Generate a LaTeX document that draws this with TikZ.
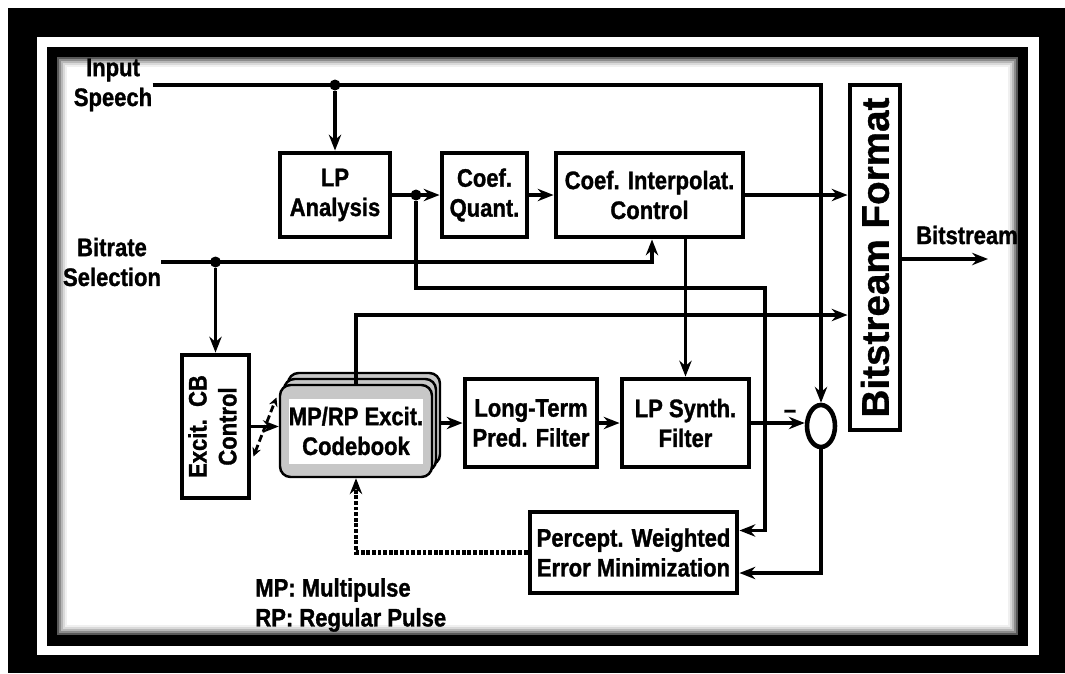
\documentclass[tikz,border=0pt]{standalone}
\usepackage{graphicx}
\usepackage{fontspec}
\setmainfont[FakeStretch=0.87, BoldFeatures={FakeBold=1.2}]{Liberation Sans}
\newfontfamily\widefont[BoldFeatures={FakeBold=0.8}]{Liberation Sans}
\usetikzlibrary{arrows.meta, calc, shapes.geometric}

\begin{document}
\begin{tikzpicture}[x=0.02cm, y=-0.02cm, font=\fontsize{14.4}{17}\selectfont\bfseries]
    \tikzset{
        block/.style={rectangle, draw, line width=2.8pt, align=center, inner sep=0pt},
        arrow/.style={line width=2.2pt, ->, >={Stealth[length=9pt,width=7pt]}},
        card/.style={rectangle, rounded corners=6pt, draw, line width=1.4pt, fill=black!22,
                     minimum width=3.04cm, minimum height=1.84cm},
        junction/.style={circle, fill, inner sep=0pt, minimum size=0.22cm},
        plain/.style={align=center, inner sep=0pt}
    }
    \useasboundingbox (0,0) rectangle (1065,673);
    % frame
    \fill[black] (8,8) rectangle (1065,673);
    \fill[white] (37,37) rectangle (1039,655);
    \fill[black] (47,47) rectangle (1028,646);
    \foreach \k/\c in {0/35,2/55,4/72,6/85,8/94,10/100}
        \fill[white!\c!black] ({57+\k},{57+\k}) rectangle ({1018-\k},{635-\k});

    % blocks
    \node[block, minimum width=2.2cm, minimum height=1.68cm] (lpa) at (335,195) {LP\\Analysis};
    \node[block, minimum width=1.7cm, minimum height=1.68cm] (quant) at (484.5,195) {Coef.\\Quant.};
    \node[block, minimum width=3.74cm, minimum height=1.68cm] (interp) at (649.5,195) {Coef. Interpolat.\\Control};
    \node[block, minimum width=1cm, minimum height=6.9cm] (bsf) at (875,257.5)
        {\rotatebox{90}{\widefont\fontsize{22}{24}\selectfont\bfseries Bitstream Format}};
    \node[block, minimum width=1.34cm, minimum height=2.86cm] (excit) at (215.5,426.5)
        {\rotatebox{90}{\begin{tabular}{@{}c@{}}Excit.\ \ CB\\Control\end{tabular}}};
    \node[card] (cb3) at (364,419) {};
    \node[card] (cb2) at (360,425) {};
    \node[card] (cb) at (356,431) {};
    \node[plain, fill=white, minimum width=2.64cm, minimum height=1.3cm] (cbtext) at (cb) {MP/RP Excit.\\Codebook};
    \node[block, minimum width=2.64cm, minimum height=1.76cm] (ltp) at (531,423) {Long-Term\\Pred. Filter};
    \node[block, minimum width=2.54cm, minimum height=1.76cm] (synth) at (685.5,423) {LP Synth.\\Filter};
    \node[ellipse, draw, line width=2.6pt, minimum width=0.56cm, minimum height=0.84cm, inner sep=0pt] (sum) at (821,426) {};
    \node[block, minimum width=4.14cm, minimum height=1.62cm] (percept) at (633.5,552.5) {Percept. Weighted\\Error Minimization};

    % labels
    \node[plain] (speech) at (113,85) {Input\\Speech};
    \node[plain] (rate) at (112,262) {Bitrate\\Selection};
    \node[plain, align=left, anchor=west] (legend) at (255,605) {MP: Multipulse\\RP: Regular Pulse};
    \node[plain] (bslabel) at (967,235) {Bitstream};
    \node[plain] (minus) at (790,414) {--};

    % connections
    \node[junction] (j1) at (lpa.north |- speech.east) {};
    \draw[arrow] (speech.east) -| (sum.north);
    \draw[arrow] (j1) -- (lpa.north);
    \draw[arrow] (lpa) -- (quant);
    \node[junction] (j2) at (416,195) {};
    \draw[arrow] (quant) -- (interp);
    \draw[arrow] (interp) -- (interp -| bsf.west);
    \coordinate (c1) at (765,288);
    \draw[arrow] (j2) |- (c1) |- ($(percept.east)+(0,-22)$);
    \draw[arrow] (rate.east) -| ($(interp.south)+(2.5,0)$);
    \node[junction] (j3) at (excit.north |- rate.east) {};
    \draw[arrow] (j3) -- (excit.north);
    \draw[arrow] (cb.north) |- ($(bsf.west)+(0,57.5)$);
    \draw[arrow] (interp.south -| synth) -- (synth.north);
    \draw[arrow] (excit.east) -- (excit.east -| cb.west);
    \draw[dash pattern=on 4pt off 2pt, <->, >={Stealth[length=5pt,width=5pt]}, line width=1.6pt]
        ($(excit.east)+(2,30)$) -- ($(excit.east)+(25,-29)$);
    \draw[arrow] (cb3.east |- ltp.west) -- (ltp.west);
    \draw[arrow] (ltp) -- (synth);
    \draw[arrow] (synth.east) -- (synth.east -| sum.west);
    \draw[arrow] (sum.south) |- ($(percept.east)+(0,20.5)$);
    \draw[arrow, densely dotted, line width=2.6pt] (percept.west) -| (cb.south);
    \coordinate (out) at (988,259);
    \draw[arrow] (bsf.east |- out) -- (out);
\end{tikzpicture}
\end{document}
